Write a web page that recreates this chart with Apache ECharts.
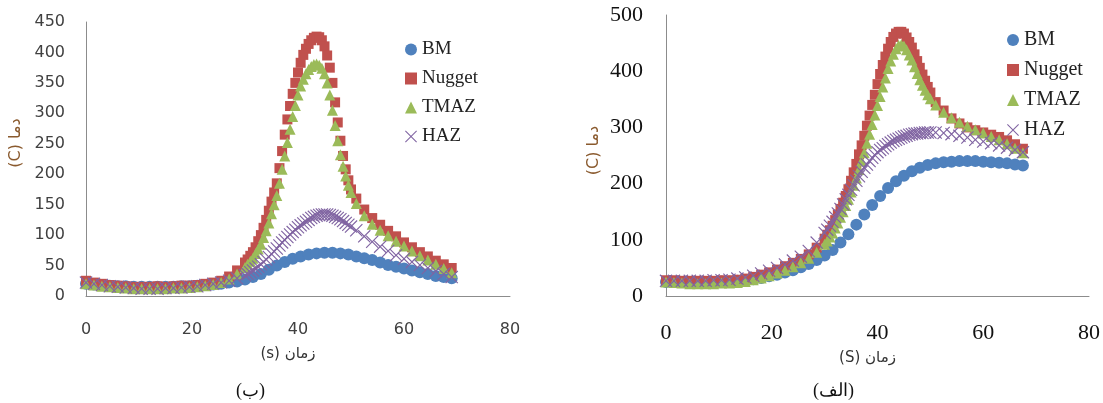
<!DOCTYPE html>
<html>
<head>
<meta charset="utf-8">
<title>temperature</title>
</head>
<body style="margin:0;background:#fff;">
<div id="main" style="width:1103px;height:403px;"></div>
<script src="https://cdn.jsdelivr.net/npm/echarts@6/dist/echarts.min.js"></script>
<script>
// ---- left chart (ب) ----
// BM is sampled every 1.5 s, the other zones are sampled finer around the peak
var coarseB = [0,1.5,3,4.5,6,7.5,9,10.5,12,13.5,15,16.5,18,19.5,21,22.5,24,25.5,27,28.5,30,31.5,33,34.5,36,37.5,39,40.5,42,43.5,45,46.5,48,49.5,51,52.5,54,55.5,57,58.5,60,61.5,63,64.5,66,67.5,69];
var fineB = [0,1.5,3,4.5,6,7.5,9,10.5,12,13.5,15,16.5,18,19.5,21,22.5,24,25.5,27,28.5,
    30,30.5,31,31.5,32,32.5,33,33.5,34,34.5,35,35.5,36,36.5,37,37.5,38,38.5,39,39.5,40,
    40.5,41,41.5,42,42.5,43,43.5,44,44.5,45,45.5,46,46.5,47,47.5,48,48.5,49,49.5,50,
    51,52.5,54,55.5,57,58.5,60,61.5,63,64.5,66,67.5,69];
var bmB = [20,19,18,17,16,16,15,15,15,15,15,15,16,16,17,18,19,20,22,24,27,31,36,43,50,56,61,65,68,70,71,71,70,68,65,62,59,55,51,48,45,42,39,36,33,31,29];
var nuggetB = [25,22,20,18,17,16,15,15,15,16,15,16,17,17,18,20,22,25,32,42,
    55,60,66,72,80,90,100,112,125,140,155,170,185,210,238,265,290,312,332,350,367,
    383,396,406,414,420,424,426,425,420,410,395,375,350,318,285,255,230,208,190,175,
    160,142,128,117,107,98,88,80,72,65,58,52,46];
var tmazB = [20,18,16,15,14,13,12,12,12,12,12,13,13,14,15,17,19,22,28,36,
    47,52,57,62,70,77,85,96,107,120,135,150,165,185,208,230,252,274,295,313,330,
    345,356,365,372,377,380,381,379,374,365,350,330,305,280,255,232,213,197,182,170,
    152,132,118,108,99,90,82,74,66,59,52,45,38];
var hazB = [22,20,18,16,15,14,13,12,12,12,13,13,14,15,16,18,20,22,25,29,
    34,36,39,42,45,48,52,56,60,64,69,73,78,83,88,92,97,101,105,109,113,
    116,119,122,125,128,130,132,133,134,134,134,133,132,130,128,126,123,120,117,114,
    108,98,89,81,74,67,61,56,51,46,41,36,31];

// ---- right chart (الف) ----
var coarseA = [0,1.5,3,4.5,6,7.5,9,10.5,12,13.5,15,16.5,18,19.5,21,22.5,24,25.5,27,28.5,30,31.5,33,34.5,36,37.5,39,40.5,42,43.5,45,46.5,48,49.5,51,52.5,54,55.5,57,58.5,60,61.5,63,64.5,66,67.5];
var fineA = [0,1.5,3,4.5,6,7.5,9,10.5,12,13.5,15,16.5,18,19.5,21,22.5,24,25.5,27,28.5,
    30,30.5,31,31.5,32,32.5,33,33.5,34,34.5,35,35.5,36,36.5,37,37.5,38,38.5,39,39.5,40,
    40.5,41,41.5,42,42.5,43,43.5,44,44.5,45,45.5,46,46.5,47,47.5,48,48.5,49,49.5,50,
    51,52.5,54,55.5,57,58.5,60,61.5,63,64.5,66,67.5];
var bmA = [25,25,25,25,25,25,25,26,26,27,28,30,32,35,38,42,46,51,57,64,72,82,95,110,127,145,162,178,192,204,214,222,228,233,236,238,239,240,240,240,239,238,237,236,234,232];
var nuggetA = [28,28,27,27,27,27,27,28,28,29,31,34,38,42,47,53,59,66,74,86,
    102,109,117,125,135,145,155,166,178,190,205,220,235,252,268,285,303,321,340,358,377,
    395,411,426,440,452,461,467,470,470,467,460,452,442,430,418,406,394,383,372,362,
    345,330,316,307,300,295,291,287,283,277,270,262];
var tmazA = [25,24,23,22,22,22,22,23,23,24,26,29,32,36,41,46,52,59,67,78,
    92,98,105,112,121,130,140,150,161,172,185,197,210,225,240,255,272,288,305,322,339,
    355,372,388,405,418,430,440,446,447,445,438,429,420,408,396,385,375,366,358,351,
    340,327,317,309,302,296,290,284,278,271,263,255];
var hazA = [27,27,27,27,27,27,28,28,29,31,33,36,40,45,50,56,63,70,80,95,
    112,118,125,132,140,147,155,163,172,180,189,197,205,213,221,228,234,240,246,251,256,
    260,263,267,270,273,276,278,280,282,284,285,287,288,289,289,290,290,291,291,291,
    291,290,288,285,282,278,275,272,268,264,260,256];

var names = ['BM', 'Nugget', 'TMAZ', 'HAZ'];
var colors = ['#4F81BD', '#C0504D', '#9BBB59', '#8064A2'];
var crossPath = 'path://M0,1.5L1.5,0L12,10.5L22.5,0L24,1.5L13.5,12L24,22.5L22.5,24L12,13.5L1.5,24L0,22.5L10.5,12Z';
var symbols = ['circle', 'rect', 'triangle', crossPath];
var sizes = [12, 10, 11, 13];

function pairs(t, v) {
    return v.map(function (y, i) { return [t[i], y]; });
}

var myChart = echarts.init(document.getElementById('main'));

var charts = [
    { times: [coarseB, fineB, fineB, fineB], vals: [bmB, nuggetB, tmazB, hazB] },
    { times: [coarseA, fineA, fineA, fineA], vals: [bmA, nuggetA, tmazA, hazA] }
];
var seriesList = [];
charts.forEach(function (c, k) {
    c.vals.forEach(function (vals, i) {
        seriesList.push({
            name: names[i],
            type: 'scatter',
            xAxisIndex: k,
            yAxisIndex: k,
            symbol: symbols[i],
            symbolSize: sizes[i],
            itemStyle: { color: colors[i], opacity: 1 },
            data: pairs(c.times[i], vals)
        });
    });
});

var axisLine = { show: true, lineStyle: { color: '#8c8c8c', width: 1 } };

myChart.setOption({
    animation: false,
    color: colors,
    grid: [
        { left: 86, top: 22, width: 424, height: 274 },
        { left: 666, top: 15, width: 424, height: 281 }
    ],
    legend: [
        {
            orient: 'vertical', left: 400, top: 35,
            itemWidth: 12, itemHeight: 12, itemGap: 10, itemTextGap: 2,
            textStyle: { fontFamily: 'Liberation Serif', fontSize: 19, color: '#222', lineHeight: 19 },
            data: names
        },
        {
            orient: 'vertical', left: 1002, top: 25,
            itemWidth: 12, itemHeight: 12, itemGap: 10, itemTextGap: 3,
            textStyle: { fontFamily: 'Liberation Serif', fontSize: 20, color: '#222', lineHeight: 19 },
            data: names
        }
    ],
    xAxis: [
        {
            gridIndex: 0, type: 'value', min: 0, max: 80, interval: 20,
            axisLine: axisLine, axisTick: { show: false }, splitLine: { show: false },
            axisLabel: { margin: 26, fontFamily: 'DejaVu Sans', fontSize: 16, color: '#404040' },
            name: '(s) زمان', nameLocation: 'middle', nameGap: 51,
            nameTextStyle: { fontFamily: 'DejaVu Sans', fontSize: 15, color: '#333', padding: [0, 20, 0, 0] }
        },
        {
            gridIndex: 1, type: 'value', min: 0, max: 80, interval: 20,
            axisLine: axisLine, axisTick: { show: false }, splitLine: { show: false },
            axisLabel: { margin: 26, fontFamily: 'Liberation Serif', fontSize: 22, color: '#111' },
            name: '(S) زمان', nameLocation: 'middle', nameGap: 55,
            nameTextStyle: { fontFamily: 'DejaVu Sans', fontSize: 15, color: '#333', padding: [0, 20, 0, 0] }
        }
    ],
    yAxis: [
        {
            gridIndex: 0, type: 'value', min: 0, max: 450, interval: 50,
            axisLine: axisLine, axisTick: { show: false }, splitLine: { show: false },
            axisLabel: { margin: 21, fontFamily: 'DejaVu Sans', fontSize: 16, color: '#404040' },
            name: '(C) دما', nameLocation: 'middle', nameRotate: 90, nameGap: 62,
            nameTextStyle: { fontFamily: 'DejaVu Sans', fontSize: 16, color: '#8a5a2e', padding: [0, 0, 0, 32] }
        },
        {
            gridIndex: 1, type: 'value', min: 0, max: 500, interval: 100,
            axisLine: axisLine, axisTick: { show: false }, splitLine: { show: false },
            axisLabel: { margin: 23, fontFamily: 'Liberation Serif', fontSize: 22, color: '#111' },
            name: '(C) دما', nameLocation: 'middle', nameRotate: 90, nameGap: 64,
            nameTextStyle: { fontFamily: 'DejaVu Sans', fontSize: 16, color: '#8a5a2e', padding: [0, 0, 0, 10] }
        }
    ],
    graphic: [
        { type: 'text', left: 236, top: 382, style: { text: '(ب)', font: '18px "Liberation Serif"', fill: '#111' } },
        { type: 'text', left: 813, top: 382, style: { text: '(الف)', font: '18px "Liberation Serif"', fill: '#111' } }
    ],
    series: seriesList
});
</script>
</body>
</html>
